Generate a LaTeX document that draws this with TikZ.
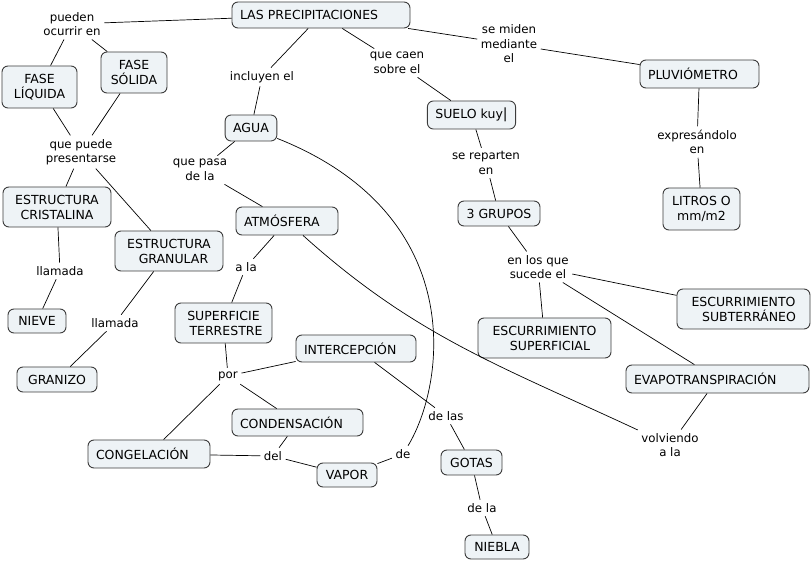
\documentclass[tikz,border=0pt]{standalone}
\usepackage{fontspec}
\setmainfont{DejaVu Sans}
\definecolor{boxfill}{RGB}{238,243,246}
\definecolor{boxline}{RGB}{60,60,60}
\begin{document}
\begin{tikzpicture}[x=1pt,y=-1pt,
  every node/.style={font=\fontsize{11.8}{14.5}\selectfont},
  box/.style={draw=boxline, fill=boxfill, rounded corners=6pt, line width=0.9pt,
    inner xsep=8pt, inner ysep=0pt, align=center, font=\fontsize{12.5}{15}\selectfont},
  boxl/.style={box, align=left},
  lbl/.style={inner sep=3.5pt, align=center},
  conn/.style={draw=black, line width=0.7pt}]
\useasboundingbox (0,0) rectangle (812,561);
% concepts
\node[boxl, text width=162pt, minimum height=26pt] (lp) at (321,15) {LAS PRECIPITACIONES};
\node[boxl, text width=103pt, minimum height=28pt] (pluv) at (699.5,74) {PLUVIÓMETRO};
\node[box, minimum width=83pt, minimum height=28pt] (suelo) at (471.5,115) {SUELO kuy{\fontsize{14}{14}\selectfont|}};
\node[box, minimum width=77pt, minimum height=42pt] (litros) at (701.5,209) {LITROS O\\mm/m2};
\node[box, minimum width=82pt, minimum height=25pt] (grupos) at (499,213.5) {3 GRUPOS};
\node[box, minimum width=75pt, minimum height=42pt] (liq) at (39.5,87) {FASE\\LÍQUIDA};
\node[box, minimum width=66pt, minimum height=41pt] (sol) at (134,72.5) {FASE\\SÓLIDA};
\node[box, minimum width=50pt, minimum height=26pt] (agua) at (251,128) {AGUA};
\node[box, minimum width=108pt, minimum height=40pt] (cris) at (57,207) {ESTRUCTURA\\CRISTALINA};
\node[box, minimum width=108pt, minimum height=40pt] (gran) at (169,251) {ESTRUCTURA\\\hspace*{9pt}GRANULAR};
\node[boxl, text width=86pt, minimum height=28pt] (atm) at (287,221) {ATMÓSFERA};
\node[box, minimum width=58pt, minimum height=24pt] (nieve) at (37,321) {NIEVE};
\node[box, minimum width=97pt, minimum height=40pt] (sup) at (223.5,323) {SUPERFICIE\\\hspace*{5pt}TERRESTRE};
\node[box, minimum width=80pt, minimum height=25pt] (granizo) at (57,379.5) {GRANIZO};
\node[boxl, text width=104pt, minimum height=27pt] (inter) at (356,348.5) {INTERCEPCIÓN};
\node[boxl, text width=115pt, minimum height=27pt] (cond) at (297.5,422.5) {CONDENSACIÓN};
\node[boxl, text width=106pt, minimum height=28pt] (cong) at (149,454) {CONGELACIÓN};
\node[box, minimum width=60pt, minimum height=24pt] (vapor) at (347,475) {VAPOR};
\node[box, minimum width=61pt, minimum height=25pt] (gotas) at (471.5,462.5) {GOTAS};
\node[box, minimum width=64pt, minimum height=24pt] (niebla) at (497,547) {NIEBLA};
\node[box, minimum width=133pt, minimum height=40pt] (escsup) at (544.5,338) {ESCURRIMIENTO\\\hspace*{11pt}SUPERFICIAL};
\node[box, minimum width=133pt, minimum height=40pt] (escsub) at (743.5,309) {ESCURRIMIENTO\\\hspace*{11pt}SUBTERRÁNEO};
\node[boxl, text width=167pt, minimum height=28pt] (evapo) at (717.5,379) {EVAPOTRANSPIRACIÓN};
% linking phrases
\node[lbl] (l1) at (72,24) {pueden\\ocurrir en};
\node[lbl] (l2) at (509,44) {se miden\\mediante\\el};
\node[lbl] (l3) at (262,77) {incluyen el};
\node[lbl] (l4) at (397,63) {que caen\\sobre el};
\node[lbl] (l5) at (81,152) {que puede\\presentarse};
\node[lbl] (l6) at (200,170) {que pasa\\de la};
\node[lbl] (l7) at (486,163) {se reparten\\en};
\node[lbl] (l8) at (697,142) {expresándolo\\en};
\node[lbl] (l9) at (538,267) {en los que\\sucede el};
\node[lbl] (l10) at (60,271) {llamada};
\node[lbl] (l11) at (246,267) {a la};
\node[lbl] (l12) at (115,323) {llamada};
\node[lbl] (l13) at (228,376) {por};
\node[lbl] (l14) at (446,416) {de las};
\node[lbl] (l15) at (670,445) {volviendo\\a la};
\node[lbl] (l16) at (403,454) {de};
\node[lbl] (l17) at (273,456) {del};
\node[lbl] (l18) at (482,508) {de la};
% connectors
\draw[conn] (lp) -- (l1);
\draw[conn] (l1) -- (liq);
\draw[conn] (l1) -- (sol);
\draw[conn] (lp) -- (l3);
\draw[conn] (l3) -- (agua);
\draw[conn] (lp) -- (l4);
\draw[conn] (l4) -- (suelo);
\draw[conn] (lp) -- (l2);
\draw[conn] (l2) -- (pluv);
\draw[conn] (pluv) -- (l8);
\draw[conn] (l8) -- (litros);
\draw[conn] (suelo) -- (l7);
\draw[conn] (l7) -- (grupos);
\draw[conn] (grupos) -- (l9);
\draw[conn] (l9) -- (escsup);
\draw[conn] (l9) -- (escsub);
\draw[conn] (l9) -- (evapo);
\draw[conn] (liq) -- (l5);
\draw[conn] (sol) -- (l5);
\draw[conn] (l5) -- (cris);
\draw[conn] (l5) -- (gran);
\draw[conn] (cris) -- (l10);
\draw[conn] (l10) -- (nieve);
\draw[conn] (gran) -- (l12);
\draw[conn] (l12) -- (granizo);
\draw[conn] (agua) -- (l6);
\draw[conn] (l6) -- (atm);
\draw[conn] (atm) -- (l11);
\draw[conn] (l11) -- (sup);
\draw[conn] (sup) -- (l13);
\draw[conn] (l13) -- (inter);
\draw[conn] (l13) -- (cond);
\draw[conn] (l13) -- (cong);
\draw[conn] (inter) -- (l14);
\draw[conn] (l14) -- (gotas);
\draw[conn] (gotas) -- (l18);
\draw[conn] (l18) -- (niebla);
\draw[conn] (cond) -- (l17);
\draw[conn] (cong) -- (l17);
\draw[conn] (l17) -- (vapor);
\draw[conn] (vapor) -- (l16);
\draw[conn] (l16) .. controls (445,385) and (470,215) .. (agua);
\draw[conn] (atm) to[out=-42, in=155] (l15);
\draw[conn] (evapo) -- (l15);
\end{tikzpicture}
\end{document}
